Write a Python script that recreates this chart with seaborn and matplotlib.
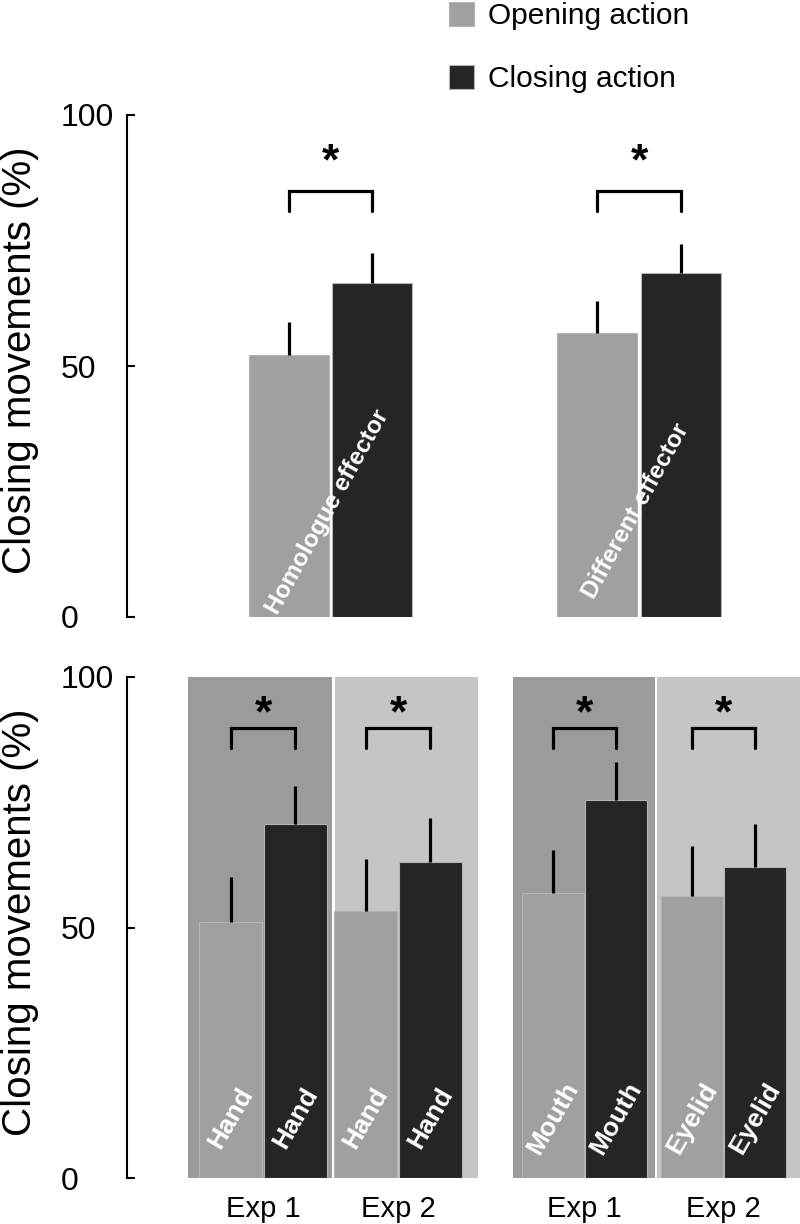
import matplotlib
matplotlib.use('Agg')
import matplotlib.pyplot as plt
import seaborn as sns
import pandas as pd

# ---- data ----
actions = ['Opening action', 'Closing action']

top_conditions = ['Homologue effector', 'Different effector']
top_opening = [52.2, 56.6]
top_closing = [66.5, 68.5]
top_opening_err = [6.6, 6.4]
top_closing_err = [6.0, 5.8]

exps = ['Exp 1', 'Exp 2']

left_effectors = ['Hand', 'Hand']
left_opening = [51.1, 53.3]
left_closing = [70.7, 63.1]
left_opening_err = [8.9, 10.4]
left_closing_err = [7.5, 8.8]

right_effectors = ['Mouth', 'Eyelid']
right_opening = [56.9, 56.3]
right_closing = [75.4, 62.1]
right_opening_err = [8.6, 10.0]
right_closing_err = [7.6, 8.6]

OPEN_C = '#a0a0a0'
CLOSE_C = '#252525'
BG_DARK = '#9b9b9b'
BG_LIGHT = '#c5c5c5'

sns.set_style('white')
plt.rcParams['font.family'] = ['Liberation Sans', 'DejaVu Sans']
plt.rcParams['text.color'] = 'black'
plt.rcParams['axes.labelcolor'] = 'black'
plt.rcParams['xtick.color'] = 'black'
plt.rcParams['ytick.color'] = 'black'

fig = plt.figure(figsize=(8, 12.24), dpi=100)
W, H = 800.0, 1224.0


def axes_px(x0, x1, y_top, y_bot):
    return fig.add_axes([x0 / W, 1 - y_bot / H, (x1 - x0) / W, (y_bot - y_top) / H])


def draw_bars(ax, cats, opening, closing, open_err, close_err, width, gap, legend):
    df = pd.DataFrame({
        'cond': cats + cats,
        'action': [actions[0]] * len(cats) + [actions[1]] * len(cats),
        'value': opening + closing,
    })
    sns.barplot(data=df, x='cond', y='value', hue='action', order=cats,
                hue_order=actions, palette=[OPEN_C, CLOSE_C], errorbar=None,
                width=width, gap=gap, edgecolor='#b4b4b4', linewidth=0.8,
                legend=legend, ax=ax, zorder=2)
    centers = []
    for cont, errs in zip(ax.containers, [open_err, close_err]):
        xs = []
        for bar, e in zip(cont.patches, errs):
            x = bar.get_x() + bar.get_width() / 2
            top = bar.get_height()
            ax.plot([x, x], [top, top + e], color='black', lw=2.3,
                    solid_capstyle='butt', zorder=3)
            xs.append(x)
        centers.append(xs)
    return centers


def brackets(ax, centers, lo, hi, star_y):
    for xo, xc in zip(centers[0], centers[1]):
        ax.plot([xo, xo, xc, xc], [lo, hi, hi, lo], color='black', lw=2.3,
                solid_joinstyle='miter', zorder=3, clip_on=False)
        ax.text((xo + xc) / 2, star_y, '*', ha='center', va='center',
                fontsize=32, fontweight='bold', zorder=4)


def style_axes(ax, show_y):
    ax.set_ylim(0, 100)
    ax.set_xlabel('')
    ax.set_ylabel('')
    for side in ['top', 'right', 'bottom']:
        ax.spines[side].set_visible(False)
    ax.set_facecolor('none')
    if show_y:
        ax.spines['left'].set_linewidth(1.5)
        ax.spines['left'].set_color('black')
        ax.set_yticks([0, 50, 100])
        ax.tick_params(axis='y', direction='in', length=6, width=1.5,
                       pad=48, labelsize=23, left=True)
        for t in ax.get_yticklabels():
            t.set_horizontalalignment('left')
        ax.set_ylabel('Closing movements (%)', fontsize=29)
    else:
        ax.spines['left'].set_visible(False)
        ax.set_yticks([])


# ---- top panel ----
ax_top = axes_px(127, 800, 115, 617)
c_top = draw_bars(ax_top, top_conditions, top_opening, top_closing,
                  top_opening_err, top_closing_err, 0.541, 0.042, True)
ax_top.set_xlim(-0.6596, 1.5219)
style_axes(ax_top, True)
ax_top.set_xticks([])
ax_top.yaxis.set_label_coords(39 / W, 1 - 360 / H, transform=fig.transFigure)
brackets(ax_top, c_top, 80.9, 84.9, 90.4)
for i, name in enumerate(top_conditions):
    ax_top.text(i - 0.01, 21, name, rotation=61, ha='center', va='center',
                color='white', fontsize=17.5, fontweight='bold', zorder=5)

handles, labels = ax_top.get_legend_handles_labels()
ax_top.legend(handles, labels, loc='upper left', bbox_to_anchor=(449 / W, 1 - 2 / H),
              bbox_transform=fig.transFigure, frameon=False, fontsize=21.5,
              handlelength=0.85, handleheight=0.85, handletextpad=0.45,
              labelspacing=1.17, borderpad=0, borderaxespad=0)

# ---- bottom panel: left (hand) and right (mouth / eyelid) ----
ax_bl = axes_px(127, 495, 677, 1178)
c_bl = draw_bars(ax_bl, exps, left_opening, left_closing,
                 left_opening_err, left_closing_err, 0.956, 0.03, False)
ax_bl.set_xlim(-1.0074, 1.7185)
ax_bl.axvspan(-0.556, 0.511, color=BG_DARK, lw=0, zorder=0)
ax_bl.axvspan(0.533, 1.593, color=BG_LIGHT, lw=0, zorder=0)
style_axes(ax_bl, True)
ax_bl.yaxis.set_label_coords(39 / W, 1 - 922 / H, transform=fig.transFigure)

ax_br = axes_px(500, 800, 677, 1178)
c_br = draw_bars(ax_br, exps, right_opening, right_closing,
                 right_opening_err, right_closing_err, 0.905, 0.02, False)
ax_br.set_xlim(-0.605, 1.549)
ax_br.axvspan(-0.512, 0.508, color=BG_DARK, lw=0, zorder=0)
ax_br.axvspan(0.522, 1.549, color=BG_LIGHT, lw=0, zorder=0)
style_axes(ax_br, False)

for ax, cb, effectors in [(ax_bl, c_bl, left_effectors), (ax_br, c_br, right_effectors)]:
    ax.tick_params(axis='x', length=0, pad=12, labelsize=21)
    brackets(ax, cb, 85.8, 89.8, 92.4)
    for xs in cb:
        for x, name in zip(xs, effectors):
            ax.text(x, 12, name, rotation=60, ha='center', va='center',
                    color='white', fontsize=19, fontweight='bold', zorder=5)

fig.savefig('out.png', dpi=100)
